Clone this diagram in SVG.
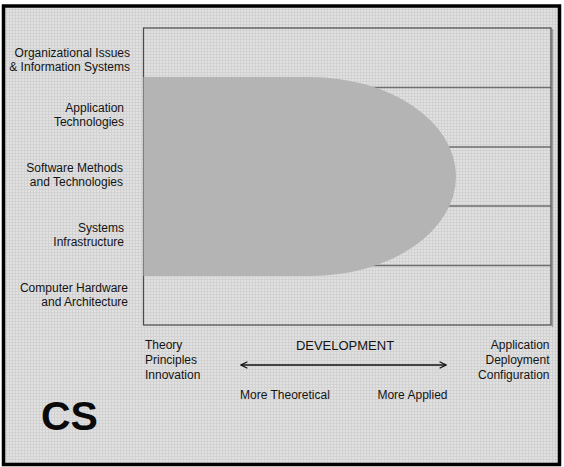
<svg xmlns="http://www.w3.org/2000/svg" width="564" height="467" viewBox="0 0 564 467">
<style>
  .lbl { font-family: "Liberation Sans", Arial, sans-serif; font-size: 12px; fill: #141414; }
  .r { text-anchor: end; }
  .band { stroke: #6e6e6e; stroke-width: 1.4; fill: none; }
</style>
<defs>
  <pattern id="grid" width="3" height="3" patternUnits="userSpaceOnUse">
    <rect width="3" height="3" fill="#e1e1e1"/>
    <path d="M0 0.5H3M0.5 0V3" stroke="#d2d2d2" stroke-width="1"/>
  </pattern>
  <marker id="arr" viewBox="0 0 10 10" refX="9" refY="5" markerWidth="8" markerHeight="8" markerUnits="userSpaceOnUse" orient="auto-start-reverse">
    <path d="M1 1 L9 5 L1 9" fill="none" stroke="#111" stroke-width="1.6"/>
  </marker>
</defs>
<rect x="0" y="0" width="564" height="467" fill="#ffffff"/>
<rect x="3.5" y="6" width="556" height="458.5" fill="url(#grid)" stroke="#000" stroke-width="3.5"/>

<g id="connectors">
  <line class="band" x1="300" y1="87.5" x2="551" y2="87.5"/>
  <line class="band" x1="400" y1="147" x2="551" y2="147"/>
  <line class="band" x1="400" y1="206" x2="551" y2="206"/>
  <line class="band" x1="300" y1="265.5" x2="551" y2="265.5"/>
  <line x1="241" y1="365" x2="446" y2="365" stroke="#111" stroke-width="1.5" marker-start="url(#arr)" marker-end="url(#arr)"/>
</g>

<g id="frame">
  <line x1="552.5" y1="29" x2="552.5" y2="327" stroke="#9a9a9a" stroke-width="1.5"/>
  <rect x="143.5" y="28" width="407.5" height="297" fill="none" stroke="#4a4a4a" stroke-width="1.2"/>
</g>

<g id="region">
  <path d="M143.5 77 H310 A146 99.5 0 0 1 310 276 H143.5 Z" fill="#b4b4b4"/>
</g>

<g id="rows">
  <text class="lbl r" x="130" y="57">Organizational Issues</text>
  <text class="lbl r" x="130" y="71">&amp; Information Systems</text>
  <text class="lbl r" x="124" y="112">Application</text>
  <text class="lbl r" x="124" y="126">Technologies</text>
  <text class="lbl r" x="123" y="172">Software Methods</text>
  <text class="lbl r" x="123" y="186">and Technologies</text>
  <text class="lbl r" x="124" y="232">Systems</text>
  <text class="lbl r" x="124" y="245.5">Infrastructure</text>
  <text class="lbl r" x="128" y="292">Computer Hardware</text>
  <text class="lbl r" x="128" y="306">and Architecture</text>
</g>

<g id="axis">
  <text class="lbl" x="145" y="349">Theory</text>
  <text class="lbl" x="145" y="364">Principles</text>
  <text class="lbl" x="145" y="379">Innovation</text>
  <text class="lbl" x="345" y="350" text-anchor="middle" style="font-size:13px">DEVELOPMENT</text>
  <text class="lbl" x="240" y="398.5">More Theoretical</text>
  <text class="lbl" x="447.5" y="398.5" text-anchor="end">More Applied</text>
  <text class="lbl r" x="549.5" y="349">Application</text>
  <text class="lbl r" x="549.5" y="364">Deployment</text>
  <text class="lbl r" x="549.5" y="378.5">Configuration</text>
</g>

<g id="title">
  <text x="41" y="430" style="font-family:'Liberation Sans',Arial,sans-serif;font-size:41px;font-weight:bold;fill:#0a0a0a">CS</text>
</g>
</svg>
